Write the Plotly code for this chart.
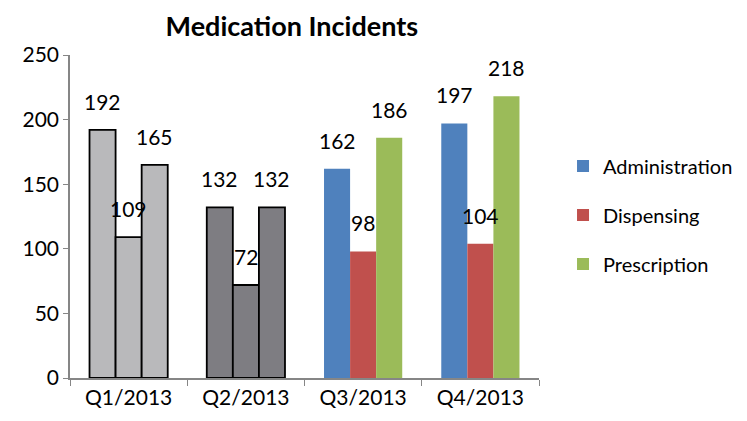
import plotly.graph_objects as go

categories = ["Q1/2013", "Q2/2013", "Q3/2013", "Q4/2013"]
series_names = ["Administration", "Dispensing", "Prescription"]
administration = [192, 132, 162, 197]
dispensing = [109, 72, 98, 104]
prescription = [165, 132, 186, 218]
series_values = [administration, dispensing, prescription]
series_colors = ["#4F81BD", "#C0504D", "#9BBB59"]
gray_colors = ["#B9B9BB", "#7E7D82"]

FONT = "Lato"
FS = 21
fig = go.Figure()

for k, (name, vals, col) in enumerate(zip(series_names, series_values, series_colors)):
    fig.add_trace(go.Bar(
        x=categories[:2], y=vals[:2], name=name, offsetgroup=name,
        marker=dict(color=gray_colors, line=dict(color="black", width=1.8)),
        showlegend=False, legendgroup=name + "_g",
    ))
    fig.add_trace(go.Bar(
        x=categories[2:], y=vals[2:], name=name, offsetgroup=name,
        marker=dict(color=col, line=dict(width=0)),
        legendgroup=name,
    ))
    for i, v in enumerate(vals):
        fig.add_annotation(
            x=i + (k - 1) * 0.2222, y=v, text=str(v), showarrow=False,
            yanchor="bottom", yshift=14, font=dict(family=FONT, size=FS, color="black"),
        )

fig.update_layout(
    width=747, height=421,
    margin=dict(l=62, r=216, t=47, b=51),
    paper_bgcolor="white", plot_bgcolor="white",
    barmode="group", bargap=0.333, bargroupgap=0,
    title=dict(text="<b>Medication Incidents</b>", x=0.38, xanchor="center",
               y=0.978, yanchor="top", font=dict(family=FONT, size=27, color="black")),
    font=dict(family=FONT, size=FS, color="black"),
    legend=dict(x=0.743, xref="container", xanchor="left", y=0.505, yanchor="middle",
                traceorder="grouped", tracegroupgap=20,
                font=dict(family=FONT, size=20, color="black")),
    showlegend=True,
)
fig.update_xaxes(
    type="category", showline=True, linecolor="#868686", linewidth=1.5,
    ticks="outside", tickson="boundaries", ticklen=6, tickcolor="#868686",
    showgrid=False, tickfont=dict(family=FONT, size=FS),
)
fig.update_yaxes(
    range=[0, 250], dtick=50, showline=True, linecolor="#868686", linewidth=1.5,
    ticks="outside", ticklen=5, tickcolor="#868686", showgrid=False, zeroline=False,
    tickfont=dict(family=FONT, size=FS),
)

fig.write_html("out.html")
